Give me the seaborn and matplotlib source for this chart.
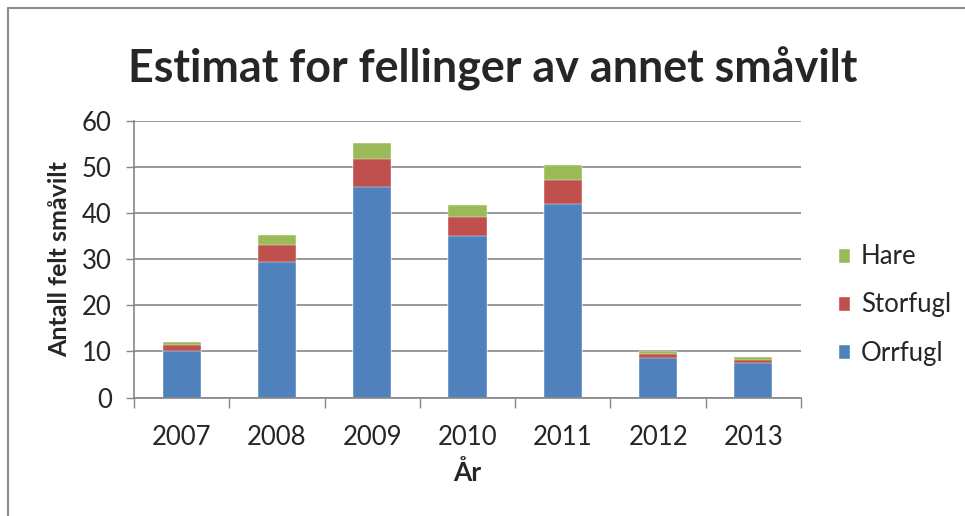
import numpy as np
import matplotlib
import matplotlib.pyplot as plt
import seaborn as sns
from matplotlib.lines import Line2D
from matplotlib.patches import Patch

matplotlib.use("Agg")

# data
years = ["2007", "2008", "2009", "2010", "2011", "2012", "2013"]
orrfugl = [10.0, 29.4, 45.7, 34.9, 42.0, 8.5, 7.4]
storfugl = [1.3, 3.7, 6.1, 4.3, 5.2, 1.0, 0.8]
hare = [0.8, 2.2, 3.4, 2.5, 3.2, 0.6, 0.55]
series = ["Orrfugl", "Storfugl", "Hare"]
colors = ["#4f81bd", "#c0504d", "#9bbb59"]
grid_col = "#868686"

sns.set_theme(style="white")
plt.rcParams["font.family"] = ["Lato", "DejaVu Sans"]

fig = plt.figure(figsize=(9.65, 5.16), dpi=100)
ax = fig.add_axes([134 / 965, 1 - 397.5 / 516, (801 - 134) / 965, (397.5 - 120.7) / 516])

# stacked bars: draw cumulative totals from top down
level1 = np.array(orrfugl)
level2 = level1 + np.array(storfugl)
level3 = level2 + np.array(hare)
for vals, col in zip([level3, level2, level1], colors[::-1]):
    sns.barplot(x=years, y=vals, color=col, width=0.4, saturation=1,
                edgecolor="white", linewidth=0.3, ax=ax)

ax.set_ylim(0, 60)
ax.set_xlim(-0.5, 6.5)
ax.set_yticks(range(0, 61, 10))
ax.yaxis.grid(True, color=grid_col, linewidth=1.2)
ax.set_axisbelow(True)
for s in ["top", "right"]:
    ax.spines[s].set_visible(False)
for s in ["left", "bottom"]:
    ax.spines[s].set_color(grid_col)
    ax.spines[s].set_linewidth(1.2)

ax.tick_params(axis="y", which="major", length=6, width=1, color=grid_col,
               direction="out", left=True, labelsize=18.5, pad=10)
ax.tick_params(axis="x", which="major", length=0, labelsize=18.5, pad=20)
ax.set_xticks(np.arange(-0.5, 7, 1), minor=True)
ax.tick_params(axis="x", which="minor", length=7, width=1, color=grid_col,
               direction="out", bottom=True)

ax.set_xlabel("År", fontsize=19, fontweight="bold", labelpad=7)
ax.set_ylabel("Antall felt småvilt", fontsize=18, fontweight="bold", labelpad=8)

fig.text(0.511, 0.867, "Estimat for fellinger av annet småvilt", ha="center",
         va="center", fontsize=32.3, fontweight="bold")

handles = [Patch(facecolor=c, label=l) for c, l in zip(colors[::-1], series[::-1])]
fig.legend(handles=handles, loc="center left", bbox_to_anchor=(0.868, 0.409),
           frameon=False, fontsize=18.5, handlelength=0.5, handleheight=0.5,
           labelspacing=0.9, handletextpad=0.4, borderaxespad=0, borderpad=0)

# outer chart border (left and top visible)
fig.add_artist(Line2D([8 / 965, 8 / 965], [0, 1 - 8 / 516], color="#8c8c8c",
                      linewidth=1.5, transform=fig.transFigure))
fig.add_artist(Line2D([8 / 965, 1], [1 - 8 / 516, 1 - 8 / 516], color="#8c8c8c",
                      linewidth=1.5, transform=fig.transFigure))

fig.savefig("out.png", dpi=100)
